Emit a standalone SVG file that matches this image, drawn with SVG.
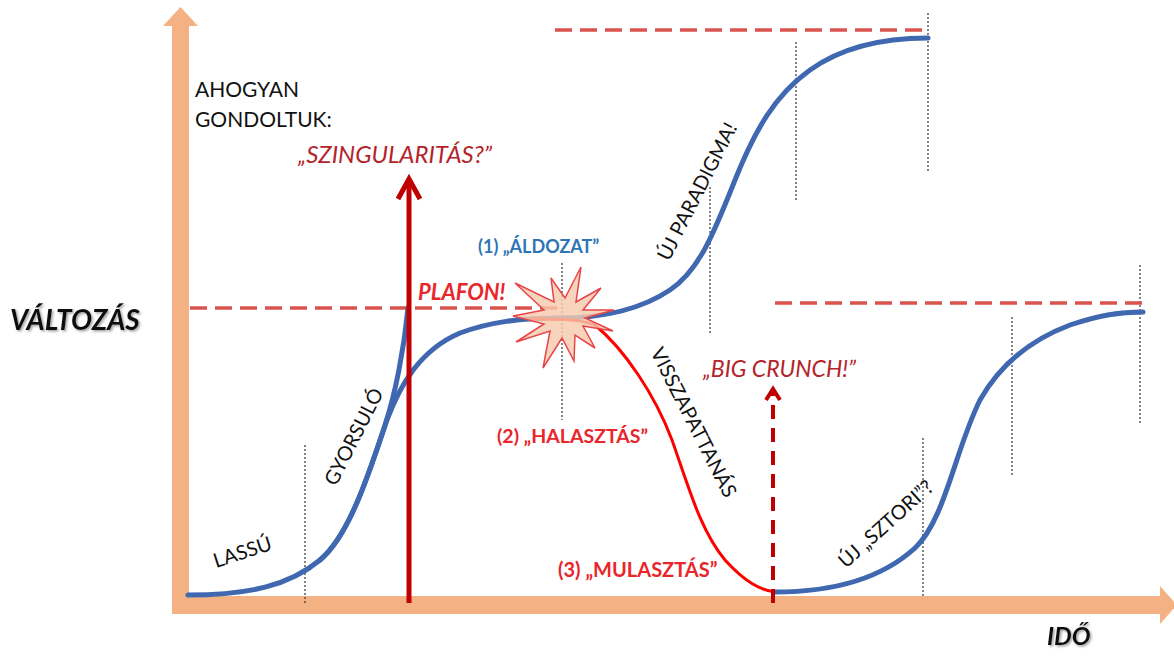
<svg xmlns="http://www.w3.org/2000/svg" width="1174" height="662" viewBox="0 0 1174 662">
<defs>
<style>
.axis{fill:#F4B183}
.dot{stroke:#333;stroke-width:1.2;stroke-dasharray:2 2;fill:none}
.dash{stroke:#D9534F;stroke-width:3.5;stroke-dasharray:17 8;fill:none}
.blue{stroke:#3F68B0;stroke-width:5;fill:none;stroke-linecap:round}
.red{stroke:#FF0000;stroke-width:3;fill:none}
.t{font-family:Lato,"Liberation Sans",sans-serif;fill:#111}
.it{font-style:italic}
.b{font-weight:bold}
.dr{fill:#B3242B}
.rr{fill:#E8262B}
.bl{fill:#2E75B6}
</style>
<filter id="sh" x="-5%" y="-20%" width="115%" height="150%">
<feDropShadow dx="1.5" dy="1.5" stdDeviation="1" flood-color="#777" flood-opacity="0.7"/>
</filter>
</defs>
<g id="axes">
<rect class="axis" x="172" y="24" width="17" height="590"/>
<polygon class="axis" points="163,26 180.5,7 198,26"/>
<rect class="axis" x="172" y="596" width="990" height="18"/>
<polygon class="axis" points="1160,586 1177,605 1160,624"/>
</g>
<g id="guides">
<line class="dot" x1="305" y1="445" x2="305" y2="603"/>
<line class="dot" x1="562" y1="263" x2="562" y2="420"/>
<line class="dot" x1="710" y1="187" x2="710" y2="333"/>
<line class="dot" x1="796" y1="42" x2="796" y2="200"/>
<line class="dot" x1="928" y1="13" x2="928" y2="173"/>
<line class="dot" x1="923" y1="438" x2="923" y2="596"/>
<line class="dot" x1="1012" y1="317" x2="1012" y2="475"/>
<line class="dot" x1="1140" y1="265" x2="1140" y2="423"/>
<line class="dash" x1="190" y1="308" x2="560" y2="308"/>
<line class="dash" x1="555" y1="30" x2="930" y2="30"/>
<line class="dash" x1="775" y1="303" x2="1148" y2="303"/>
</g>
<g id="connectors">
<path class="blue" d="M188,595 C250,595 290,585 320,560 C350,535 370,470 387,420 C400,385 420,350 460,333 C490,322 520,318 560,318 C600,318 640,310 670,290 C700,270 715,230 735,180 C755,130 775,95 810,70 C845,45 890,38 928,38"/>
<path class="blue" stroke="#4A78BE" d="M320,560 C350,535 370,470 385,425 C395,395 404,350 408,308"/>
<path class="blue" d="M775,592 C830,592 880,580 915,548 C945,520 955,450 980,400 C1000,365 1030,340 1070,325 C1100,315 1120,312 1143,312"/>
<path class="red" d="M530,319 C560,319 580,319 595,325 C625,350 655,395 672,440 C688,485 700,530 725,560 C745,582 760,590 775,592"/>
<line x1="409" y1="603" x2="409" y2="180" stroke="#C00000" stroke-width="5"/>
<polyline points="398,199 409,179 420,199" fill="none" stroke="#C00000" stroke-width="5"/>
<line x1="773" y1="603" x2="773" y2="393" stroke="#C00000" stroke-width="4" stroke-dasharray="14 9"/>
<polyline points="766,400 773,389 780,400" fill="none" stroke="#C00000" stroke-width="4"/>
</g>
<g id="starburst">
<polygon points="614,310 583,310 601,288 576,302 581,267 565,298 551,278 554,302 515,283 544,310 513,316 544,324 516,342 550,331 543,368 562,338 574,361 575,335 595,348 583,326 613,331 585,318" fill="#F8CBAD" fill-opacity="0.82" stroke="#E8454A" stroke-width="1.5"/>
</g>
<g id="labels">
<text class="t" x="195" y="97" font-size="21">AHOGYAN</text>
<text class="t" x="195" y="127" font-size="21">GONDOLTUK:</text>
<text class="t it dr" x="298" y="163" font-size="24">„SZINGULARITÁS?”</text>
<text class="t b bl" x="478" y="253" font-size="18">(1) „ÁLDOZAT”</text>
<text class="t b it rr" x="418" y="300" font-size="22">PLAFON!</text>
<text class="t it dr" x="703" y="377" font-size="23">„BIG CRUNCH!”</text>
<text class="t b rr" x="497" y="443" font-size="19.5">(2) „HALASZTÁS”</text>
<text class="t b rr" x="558" y="577" font-size="20">(3) „MULASZTÁS”</text>
<text class="t" font-size="20" transform="translate(669,262) rotate(-63)">ÚJ PARADIGMA!</text>
<text class="t" font-size="20" transform="translate(650,352) rotate(63)">VISSZAPATTANÁS</text>
<text class="t" font-size="20" transform="translate(846,569) rotate(-42)">ÚJ „SZTORI”?</text>
<text class="t" font-size="20" transform="translate(216,568) rotate(-18)">LASSÚ</text>
<text class="t" font-size="20" transform="translate(336,487) rotate(-63)">GYORSULÓ</text>
<text class="t b it" x="10" y="330" font-size="28" filter="url(#sh)">VÁLTOZÁS</text>
<text class="t b it" x="1047" y="645" font-size="25" filter="url(#sh)">IDŐ</text>
</g>
</svg>
